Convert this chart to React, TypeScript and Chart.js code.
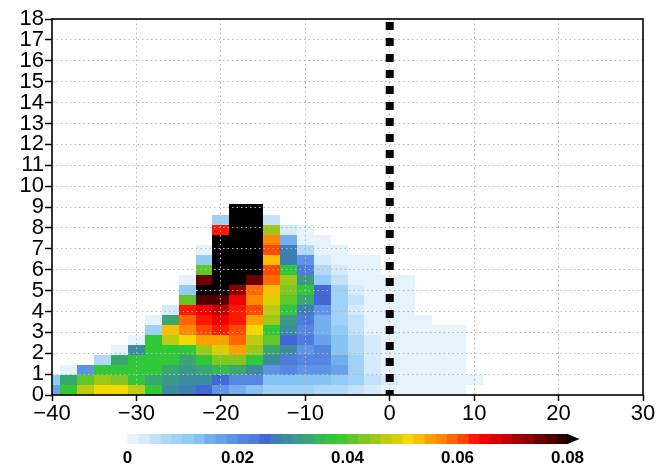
import React, { useEffect, useRef } from "react";
import { Chart, registerables } from "chart.js";

Chart.register(...registerables);

// Column centres (x) of the 2-unit wide bins
const xCenters = [-40, -38, -36, -34, -32, -30, -28, -26, -24, -22, -20, -18, -16, -14, -12, -10, -8, -6, -4, -2, 0, 2, 4, 6, 8, 10];

// Density values ×1000 per column, bottom bin first (0 = no data)
const colM40 = [17, 11];
const colM38 = [37, 33, 1];
const colM36 = [47, 41, 19];
const colM34 = [51, 45, 37, 7];
const colM32 = [51, 43, 37, 33, 1];
const colM30 = [47, 37, 37, 37, 29, 1];
const colM28 = [37, 33, 37, 37, 37, 37, 9, 1];
const colM26 = [29, 31, 33, 37, 37, 47, 53, 33, 3];
const colM24 = [27, 29, 31, 33, 37, 51, 57, 59, 63, 41, 11, 1];
const colM22 = [25, 29, 33, 37, 45, 55, 61, 63, 65, 77, 81, 75, 41, 11, 1];
const colM20 = [19, 25, 35, 43, 49, 55, 63, 65, 69, 77, 81, 81, 81, 81, 81, 81, 63, 9];
const colM18 = [15, 21, 33, 43, 55, 59, 61, 63, 63, 65, 73, 81, 81, 81, 81, 81, 81, 81, 81];
const colM16 = [13, 21, 29, 37, 45, 47, 51, 55, 61, 57, 59, 75, 81, 81, 81, 81, 81, 81, 81];
const colM14 = [9, 13, 19, 29, 33, 41, 37, 45, 47, 49, 53, 59, 61, 53, 61, 57, 45, 5];
const colM12 = [9, 13, 21, 23, 29, 25, 29, 31, 37, 41, 43, 45, 37, 27, 27, 15, 3];
const colM10 = [9, 13, 19, 21, 19, 23, 21, 23, 27, 33, 37, 31, 23, 19, 7, 1, 1];
const colM8 = [7, 13, 19, 21, 21, 17, 15, 15, 19, 25, 25, 11, 7, 3, 1, 1];
const colM6 = [7, 11, 17, 15, 13, 13, 11, 9, 9, 9, 9, 5, 3, 1, 1];
const colM4 = [5, 9, 9, 9, 7, 7, 5, 5, 3, 5, 3, 1, 1, 1];
const colM2 = [3, 5, 3, 3, 3, 3, 1, 1, 1, 1, 1, 1, 1, 1];
const col0 = [1, 3, 1, 1, 1, 1, 1, 1, 1, 1, 1, 1];
const colP2 = [1, 1, 1, 1, 1, 1, 1, 1, 1, 1, 1, 1];
const colP4 = [1, 1, 1, 1, 1, 1, 1, 1];
const colP6 = [1, 1, 1, 1, 1, 1, 1];
const colP8 = [1, 1, 1, 1, 1, 1, 1];
const colP10 = [0, 1];

const columns = [colM40, colM38, colM36, colM34, colM32, colM30, colM28, colM26, colM24, colM22, colM20, colM18, colM16, colM14, colM12, colM10, colM8, colM6, colM4, colM2, col0, colP2, colP4, colP6, colP8, colP10];

const binWidth = 2;
const binHeight = 0.48;

const xTicks = [-40, -30, -20, -10, 0, 10, 20, 30];
const yTicks = [0, 1, 2, 3, 4, 5, 6, 7, 8, 9, 10, 11, 12, 13, 14, 15, 16, 17, 18];
const colorbarTicks = [0, 0.02, 0.04, 0.06, 0.08];
const colorbarLabels = ["0", "0.02", "0.04", "0.06", "0.08"];
const levelStep = 2; // thousandths per colour level

const levelColors = [
  "#e6f3fd", "#d5ebfb", "#c3e2f9", "#b1d9f7", "#a0d1f6", "#92cbf5", "#85c3f3", "#75aeee",
  "#6aa1ea", "#5f93e6", "#5785e2", "#4e7be0", "#4169d8", "#3e80b6", "#3c8ca0", "#3a9a86",
  "#38a870", "#34b852", "#30c738", "#3ccc2c", "#5ec828", "#80c820", "#9ec818", "#bccc10",
  "#dcd000", "#f5d800", "#fcc000", "#ffa000", "#ff8800", "#ff6800", "#ff4800", "#ff1800",
  "#f00000", "#d80000", "#c00000", "#a40000", "#880000", "#6c0000", "#500000", "#300000",
  "#000000",
];

const FONT = "'Liberation Sans', Arial, Helvetica, sans-serif";

function colorFor(v: number): string {
  const idx = Math.min(levelColors.length - 1, Math.floor(v / levelStep));
  return levelColors[idx];
}

const cellPoints: { x: number; y: number; v: number }[] = [];
columns.forEach((col, i) => {
  col.forEach((v, k) => {
    if (v > 0) cellPoints.push({ x: xCenters[i], y: (k + 0.5) * binHeight, v });
  });
});

const heatmapPlugin = {
  id: "heatmapCells",
  beforeDraw(chart: any) {
    const { ctx, chartArea, scales } = chart;
    const xs = scales.x;
    const ys = scales.y;
    const pts = chart.data.datasets[0].data as { x: number; y: number; v: number }[];
    ctx.save();
    ctx.fillStyle = "#ffffff";
    ctx.fillRect(0, 0, chart.width, chart.height);
    ctx.beginPath();
    ctx.rect(chartArea.left, chartArea.top, chartArea.right - chartArea.left, chartArea.bottom - chartArea.top);
    ctx.clip();
    for (const p of pts) {
      const xa = Math.round(xs.getPixelForValue(Math.max(xs.min, p.x - binWidth / 2)));
      const xb = Math.round(xs.getPixelForValue(Math.min(xs.max, p.x + binWidth / 2)));
      const ya = Math.round(ys.getPixelForValue(p.y - binHeight / 2));
      const yb = Math.round(ys.getPixelForValue(p.y + binHeight / 2));
      ctx.fillStyle = colorFor(p.v);
      ctx.fillRect(xa, yb, xb - xa, ya - yb);
    }
    ctx.restore();
  },
  afterDraw(chart: any) {
    const { ctx, chartArea } = chart;
    ctx.save();
    // frame
    ctx.strokeStyle = "#000";
    ctx.lineWidth = 1.6;
    ctx.strokeRect(chartArea.left, chartArea.top, chartArea.right - chartArea.left, chartArea.bottom - chartArea.top);
    // colour bar
    const n = levelColors.length - 1;
    const barW = 440;
    const cx = (chartArea.left + chartArea.right) / 2;
    const x0 = cx - barW / 2;
    const top = chartArea.bottom + 39;
    const h = 10;
    const segW = barW / n;
    for (let i = 0; i < n; i++) {
      ctx.fillStyle = levelColors[i];
      ctx.fillRect(x0 + i * segW, top, segW + 0.5, h);
    }
    ctx.fillStyle = levelColors[n];
    ctx.beginPath();
    ctx.moveTo(x0 + barW, top);
    ctx.lineTo(x0 + barW + 12, top + h / 2);
    ctx.lineTo(x0 + barW, top + h);
    ctx.closePath();
    ctx.fill();
    ctx.fillStyle = "#000";
    ctx.font = `bold 17px ${FONT}`;
    ctx.textAlign = "center";
    ctx.textBaseline = "middle";
    const maxV = colorbarTicks[colorbarTicks.length - 1];
    colorbarTicks.forEach((t, i) => {
      ctx.fillText(colorbarLabels[i], x0 + (t / maxV) * barW, top + 24);
    });
    ctx.restore();
  },
};

export default function App() {
  const ref = useRef<HTMLCanvasElement | null>(null);
  useEffect(() => {
    if (!ref.current) return;
    const chart = new Chart(ref.current, {
      type: "scatter",
      data: {
        datasets: [
          {
            label: "cells",
            data: cellPoints,
            pointRadius: 0,
            pointHoverRadius: 0,
            showLine: false,
          } as any,
          {
            label: "zero",
            data: [
              { x: 0, y: 18 },
              { x: 0, y: 0 },
            ],
            showLine: true,
            borderColor: "#000",
            borderWidth: 8,
            borderDash: [8, 8],
            borderDashOffset: 13,
            borderCapStyle: "butt",
            pointRadius: 0,
          } as any,
        ],
      },
      options: {
        responsive: false,
        animation: false,
        devicePixelRatio: 1,
        layout: { padding: { top: 19, right: 14, left: 0, bottom: 0 } },
        plugins: { legend: { display: false }, tooltip: { enabled: false }, title: { display: false } },
        scales: {
          x: {
            type: "linear",
            min: -40,
            max: 30,
            afterFit: (s: any) => {
              s.height = 69;
            },
            afterBuildTicks: (s: any) => {
              s.ticks = xTicks.map((v) => ({ value: v }));
            },
            ticks: {
              color: "#000",
              font: { family: FONT, size: 22 },
              padding: 0,
              maxRotation: 0,
              callback: (v: any) => String(v).replace("-", "\u2212"),
            },
            grid: {
              color: (c: any) => (c.tick && (c.tick.value === -40 || c.tick.value === 30) ? "rgba(0,0,0,0)" : "#b8b8b8"),
              lineWidth: 1,
              tickColor: "#000",
              tickWidth: 1.5,
              tickLength: 6,
              tickBorderDash: [],
            },
            border: { display: false, dash: [1.5, 3] },
          },
          y: {
            type: "linear",
            min: 0,
            max: 18,
            afterFit: (s: any) => {
              s.width = 52;
            },
            afterBuildTicks: (s: any) => {
              s.ticks = yTicks.map((v) => ({ value: v }));
            },
            ticks: {
              color: "#000",
              font: { family: FONT, size: 22 },
              padding: 1,
              autoSkip: false,
            },
            grid: {
              color: (c: any) => (c.tick && (c.tick.value === 0 || c.tick.value === 18) ? "rgba(0,0,0,0)" : "#b8b8b8"),
              lineWidth: 1,
              tickColor: "#000",
              tickWidth: 1.5,
              tickLength: 7,
              tickBorderDash: [],
            },
            border: { display: false, dash: [1.5, 3] },
          },
        },
      },
      plugins: [heatmapPlugin],
    } as any);
    return () => chart.destroy();
  }, []);
  return (
    <div style={{ position: "absolute", left: 0, top: 0, width: 657, height: 464, background: "#fff" }}>
      <canvas ref={ref} width={657} height={464} style={{ display: "block" }} />
    </div>
  );
}
